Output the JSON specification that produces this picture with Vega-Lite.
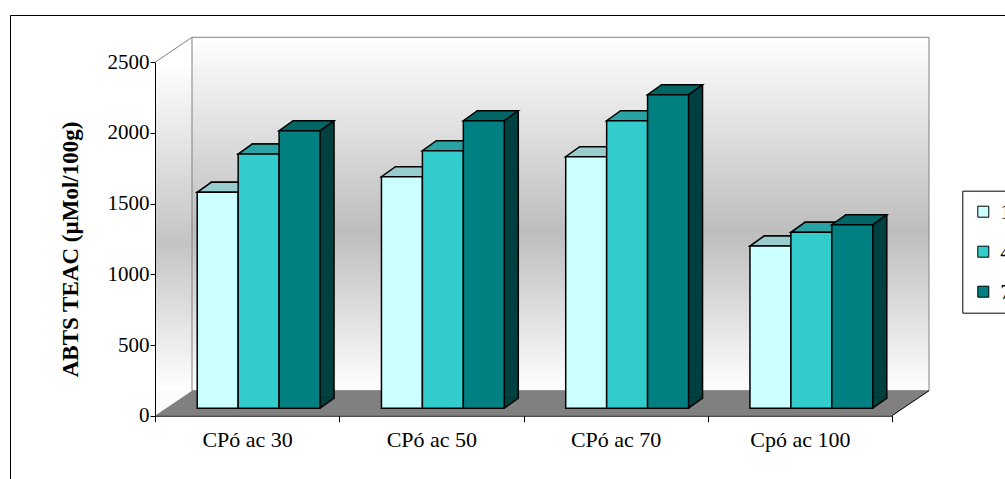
{
  "$schema": "https://vega.github.io/schema/vega-lite/v6.json",
  "width": 995,
  "height": 464,
  "autosize": {"type": "none"},
  "padding": {"left": 10, "top": 15, "right": 0, "bottom": 0},
  "background": "#ffffff",
  "config": {
    "view": {"stroke": "#000000", "strokeWidth": 1, "strokeDash": [995, 1459, 464], "fill": "#ffffff"},
    "font": "Liberation Serif"
  },
  "layer": [
    {
      "data": {"values": [{"part": "walls and floor"}]},
      "encoding": {
        "x": {"datum": 0, "type": "quantitative", "scale": {"domain": [0, 4], "range": [145, 882]}, "axis": null},
        "y": {
          "datum": 2500, "type": "quantitative",
          "scale": {"domain": [0, 2500], "range": [400.7, 47.3], "nice": false},
          "axis": {
            "orient": "left", "offset": -145, "values": [0, 500, 1000, 1500, 2000, 2500], "format": "d",
            "title": "ABTS TEAC (µMol/100g)", "titleFont": "Liberation Serif", "titleFontSize": 23,
            "titleFontWeight": "bold", "titleColor": "#000000", "titleX": -85, "titleY": 234,
            "titleAngle": -90, "titleAlign": "center", "titleBaseline": "middle",
            "labelFont": "Liberation Serif", "labelFontSize": 21, "labelColor": "#000000", "labelPadding": 1,
            "tickSize": 5, "tickColor": "#000000", "domainColor": "#000000", "grid": false, "zindex": 1
          }
        }
      },
      "layer": [
        {
          "mark": {
            "type": "rect",
            "fill": {"gradient": "linear", "x1": 0, "y1": 0, "x2": 0, "y2": 1,
              "stops": [{"offset": 0, "color": "#ffffff"}, {"offset": 0.55, "color": "#c4c4c4"}, {"offset": 1, "color": "#ffffff"}]},
            "x2Offset": 37, "y2Offset": -25
          },
          "encoding": {"x2": {"datum": 0}, "y2": {"datum": 0}}
        },
        {
          "mark": {"type": "point", "shape": "M0,0L37,-25L37,0Z", "size": 4, "filled": true, "opacity": 1, "fill": "#ffffff"}
        },
        {
          "mark": {"type": "point", "shape": "M0,-25L37,-25L0,0Z", "size": 4, "filled": true, "opacity": 1, "fill": "#fbfbfb"},
          "encoding": {"y": {"datum": 0, "type": "quantitative"}}
        },
        {
          "mark": {
            "type": "rect",
            "fill": {"gradient": "linear", "x1": 0, "y1": 0, "x2": 0, "y2": 1,
              "stops": [{"offset": 0, "color": "#ffffff"}, {"offset": 0.55, "color": "#bdbdbd"}, {"offset": 1, "color": "#ffffff"}]},
            "stroke": "#808080", "strokeWidth": 1,
            "xOffset": 37, "x2Offset": 37, "yOffset": -25, "y2Offset": -25
          },
          "encoding": {"x2": {"datum": 4}, "y2": {"datum": 0}}
        },
        {
          "mark": {"type": "rule", "stroke": "#808080", "strokeWidth": 1, "x2Offset": 37, "y2Offset": -25},
          "encoding": {"x2": {"datum": 0}, "y2": {"datum": 2500}}
        },
        {
          "mark": {"type": "rect", "fill": "#808080", "xOffset": 37, "yOffset": -25},
          "encoding": {"x2": {"datum": 4}, "y": {"datum": 0, "type": "quantitative"}, "y2": {"datum": 0}}
        },
        {
          "mark": {"type": "point", "shape": "M0,0L37,-25L37,0Z", "size": 4, "filled": true, "opacity": 1, "fill": "#808080"},
          "encoding": {"y": {"datum": 0, "type": "quantitative"}}
        },
        {
          "mark": {"type": "point", "shape": "M0,0L0,-25L37,-25Z", "size": 4, "filled": true, "opacity": 1, "fill": "#808080"},
          "encoding": {"x": {"datum": 4, "type": "quantitative", "axis": null}, "y": {"datum": 0, "type": "quantitative"}}
        },
        {
          "mark": {"type": "rule", "stroke": "#000000", "strokeWidth": 1, "x2Offset": 37, "y2Offset": -25},
          "encoding": {"x": {"datum": 4, "type": "quantitative", "axis": null}, "x2": {"datum": 4}, "y": {"datum": 0, "type": "quantitative"}, "y2": {"datum": 0}}
        }
      ]
    },
    {
      "data": {
        "values": [
          {"cat": "CPó ac 30", "series": "1", "v": 1527},
          {"cat": "CPó ac 30", "series": "4", "v": 1798},
          {"cat": "CPó ac 30", "series": "7", "v": 1963},
          {"cat": "CPó ac 50", "series": "1", "v": 1638},
          {"cat": "CPó ac 50", "series": "4", "v": 1822},
          {"cat": "CPó ac 50", "series": "7", "v": 2034},
          {"cat": "CPó ac 70", "series": "1", "v": 1779},
          {"cat": "CPó ac 70", "series": "4", "v": 2034},
          {"cat": "CPó ac 70", "series": "7", "v": 2218},
          {"cat": "Cpó ac 100", "series": "1", "v": 1147},
          {"cat": "Cpó ac 100", "series": "4", "v": 1244},
          {"cat": "Cpó ac 100", "series": "7", "v": 1298}
        ]
      },
      "encoding": {
        "x": {
          "field": "cat", "type": "nominal", "sort": null,
          "scale": {"type": "band", "range": [145, 882], "paddingInner": 0, "paddingOuter": 0},
          "axis": {
            "orient": "bottom", "offset": -63.3, "title": null, "labelAngle": 0,
            "labelFont": "Liberation Serif", "labelFontSize": 22, "labelColor": "#000000", "labelPadding": 8,
            "tickBand": "extent", "tickSize": 6, "tickColor": "#000000", "tickWidth": 1,
            "domainColor": "#000000", "domainWidth": 1, "grid": false, "zindex": 1
          }
        },
        "xOffset": {"field": "series", "type": "nominal", "sort": null, "scale": {"type": "band", "paddingInner": 0, "paddingOuter": 0.75, "range": [11.5, 195.75]}},
        "y": {
          "field": "v", "type": "quantitative", "stack": null,
          "scale": {"domain": [0, 2500], "range": [400.7, 47.3], "nice": false}
        }
      },
      "layer": [
        {
          "mark": {"type": "bar", "yOffset": -17.5, "y2Offset": -17.5, "stroke": "#000000", "strokeWidth": 1.5},
          "encoding": {
            "xOffset": {"field": "series", "type": "nominal", "sort": null, "scale": {"type": "band", "paddingInner": 0, "paddingOuter": 0.75, "range": [25.5, 209.75]}},
            "y2": {"datum": 0},
            "color": {"field": "series", "type": "nominal", "scale": {"domain": ["1", "4", "7"], "range": ["#669999", "#1a6666", "#004040"]}, "legend": null}
          }
        },
        {
          "mark": {"type": "point", "shape": "M20.47,0L34.47,-10L34.47,-10.8L20.47,-10.8Z", "size": 4, "filled": true, "opacity": 1, "yOffset": -7.5},
          "encoding": {
            "y": {"datum": 0, "type": "quantitative"},
            "color": {"field": "series", "type": "nominal", "scale": {"domain": ["1", "4", "7"], "range": ["#669999", "#1a6666", "#004040"]}, "legend": null}
          }
        },
        {
          "mark": {"type": "point", "shape": "M20.47,0L34.47,-10", "size": 4, "filled": false, "opacity": 1, "stroke": "#000000", "strokeWidth": 1.5, "yOffset": -7.5},
          "encoding": {"y": {"datum": 0, "type": "quantitative"}}
        },
        {
          "mark": {"type": "point", "shape": "M-20.47,0L20.47,0L34.47,-10L-6.47,-10Z", "size": 4, "filled": true, "opacity": 1, "stroke": "#000000", "strokeWidth": 1.5, "yOffset": -7.5},
          "encoding": {"color": {"field": "series", "type": "nominal", "scale": {"domain": ["1", "4", "7"], "range": ["#99cccc", "#29a3a3", "#006666"]}, "legend": null}}
        },
        {
          "mark": {"type": "bar", "yOffset": -7.5, "y2Offset": -7.5, "stroke": "#000000", "strokeWidth": 1.5},
          "encoding": {
            "y2": {"datum": 0},
            "color": {
              "field": "series", "type": "nominal",
              "scale": {"domain": ["1", "4", "7"], "range": ["#ccffff", "#33cccc", "#008080"]},
              "legend": {
                "orient": "none", "legendX": 952.3, "legendY": 175.7, "title": null,
                "symbolType": "square", "symbolSize": 121, "symbolStrokeColor": "#000000", "symbolStrokeWidth": 1, "symbolOpacity": 1,
                "labelFont": "Liberation Serif", "labelFontSize": 22, "labelColor": "#000000", "labelOffset": 6,
                "padding": 10, "strokeColor": "#000000", "fillColor": "#ffffff", "rowPadding": 18
              }
            }
          }
        }
      ],
      "resolve": {"scale": {"color": "independent", "xOffset": "independent"}}
    }
  ],
  "resolve": {"scale": {"x": "independent", "color": "independent"}}
}
